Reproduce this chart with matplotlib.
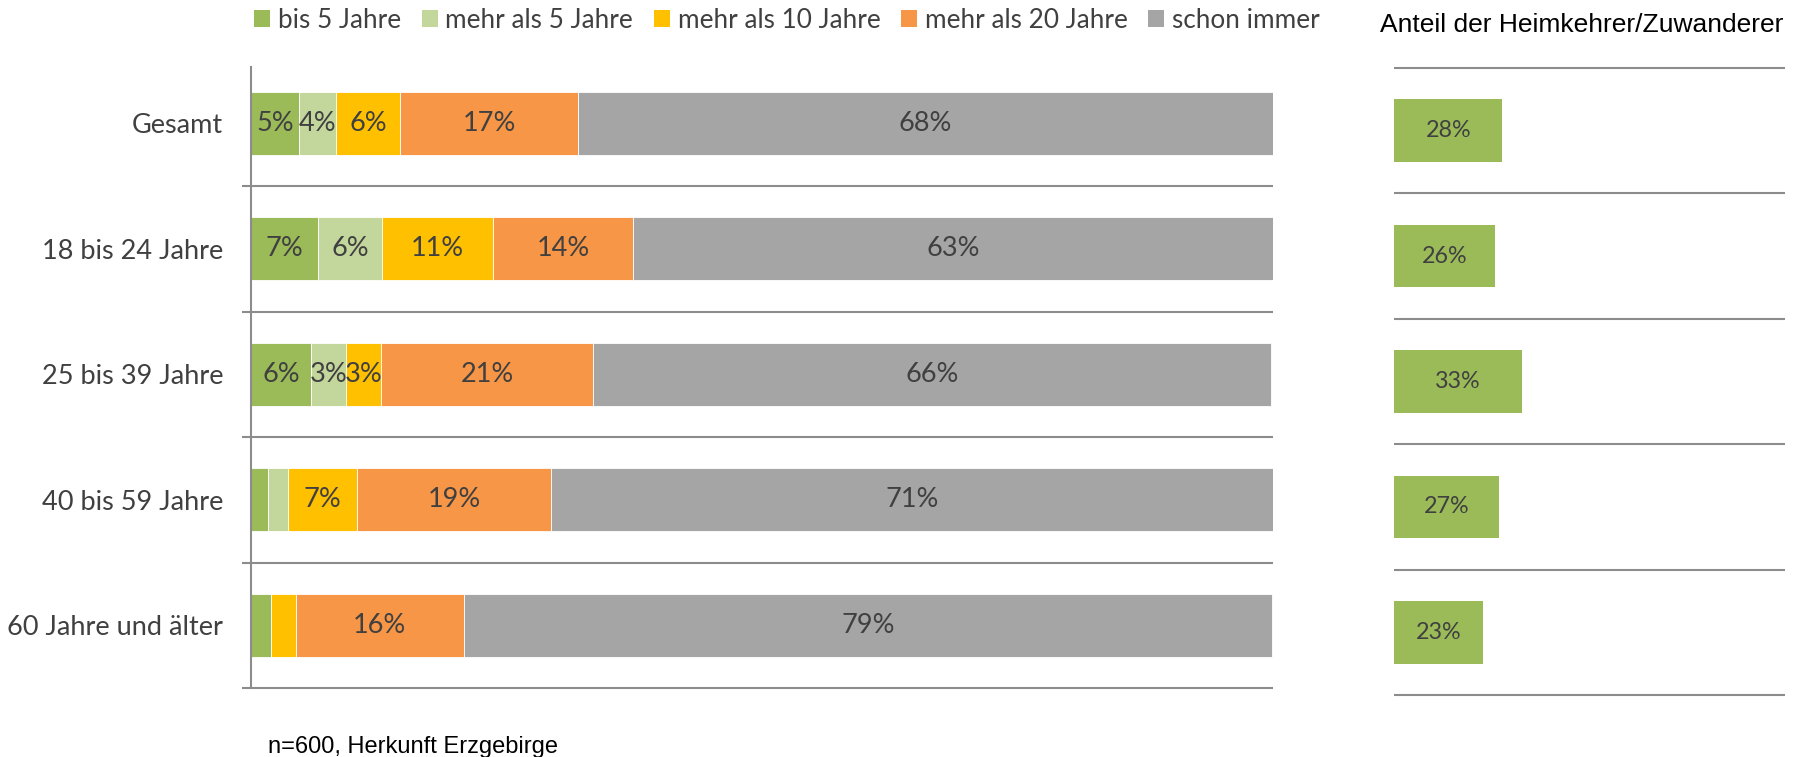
import matplotlib
matplotlib.use('Agg')

import matplotlib.pyplot as plt
from matplotlib.patches import Patch

# Data (percent)
groups = ["Gesamt", "18 bis 24 Jahre", "25 bis 39 Jahre", "40 bis 59 Jahre", "60 Jahre und älter"]
series = ["bis 5 Jahre", "mehr als 5 Jahre", "mehr als 10 Jahre", "mehr als 20 Jahre", "schon immer"]
bis5 = [4.7, 6.6, 5.9, 1.7, 2.0]
mehr5 = [3.6, 6.2, 3.4, 1.9, 0.0]
mehr10 = [6.3, 10.9, 3.4, 6.8, 2.4]
mehr20 = [17.4, 13.7, 20.8, 19.0, 16.4]
immer = [68.0, 62.6, 66.3, 70.6, 79.1]
anteil = [28, 26, 33, 27, 23]

colors = ["#9BBB59", "#C3D69B", "#FFC000", "#F79646", "#A5A5A5"]
text_col = "#404040"
line_col = "#8C8C8C"
font = "Lato"

W, H = 1808, 757
fig = plt.figure(figsize=(W / 100, H / 100), dpi=100)

# Left: stacked horizontal bars
ax = fig.add_axes([251 / W, 1 - 688 / H, 1022 / W, 627.5 / H])
ypos = list(range(len(groups)))
left = [0.0] * len(groups)
for vals, col in zip([bis5, mehr5, mehr10, mehr20, immer], colors):
    ax.barh(ypos, vals, left=left, height=0.5, color=col, edgecolor="white", linewidth=0.6)
    for i, v in enumerate(vals):
        if v >= 2.5:
            ax.text(left[i] + v / 2, i, f"{round(v)}%", ha="center", va="center",
                    fontsize=19.5, color=text_col, family=font)
    left = [l + v for l, v in zip(left, vals)]

ax.set_xlim(0, 100)
ax.set_ylim(len(groups) - 0.5, -0.5)
ax.hlines([i + 0.5 for i in ypos], -0.9, 100, color=line_col, lw=1.5, clip_on=False, zorder=0)
ax.set_yticks(ypos)
ax.set_yticklabels(groups, fontsize=19.5, color=text_col, family=font)
ax.tick_params(axis="y", length=0, pad=20)
ax.set_xticks([])
for s in ["top", "right", "bottom"]:
    ax.spines[s].set_visible(False)
ax.spines["left"].set_color(line_col)
ax.spines["left"].set_linewidth(1.5)
ax.spines["left"].set_bounds(4.5, -0.45)

# Legend
handles = [Patch(facecolor=c, edgecolor="none") for c in colors]
fig.legend(handles, series, loc="center", bbox_to_anchor=(787 / W, 1 - 20 / H), ncol=5,
           frameon=False, prop={"family": font, "size": 18.8}, labelcolor=text_col,
           handlelength=0.6, handleheight=0.6, handletextpad=0.3, columnspacing=0.8)

# Right: share of returnees / newcomers
ax2 = fig.add_axes([1394 / W, 1 - 695 / H, 391 / W, 627 / H])
ax2.barh(ypos, anteil, height=0.5, color=colors[0])
for i, v in enumerate(anteil):
    ax2.text(v / 2, i, f"{v}%", ha="center", va="center", fontsize=16.8,
             color=text_col, family=font)
ax2.set_xlim(0, 101)
ax2.set_ylim(len(groups) - 0.5, -0.5)
ax2.hlines([i - 0.5 for i in range(len(groups) + 1)], 0, 101, color=line_col, lw=1.5,
           clip_on=False, zorder=0)
ax2.axis("off")

fig.text(1582 / W, 1 - 25 / H, "Anteil der Heimkehrer/Zuwanderer", ha="center", va="center",
         fontsize=19, family="Liberation Sans", color="black")
fig.text(268 / W, 1 - 747 / H, "n=600, Herkunft Erzgebirge", ha="left", va="center",
         fontsize=17, family="Liberation Sans", color="black")

fig.savefig("out.png", dpi=100)
